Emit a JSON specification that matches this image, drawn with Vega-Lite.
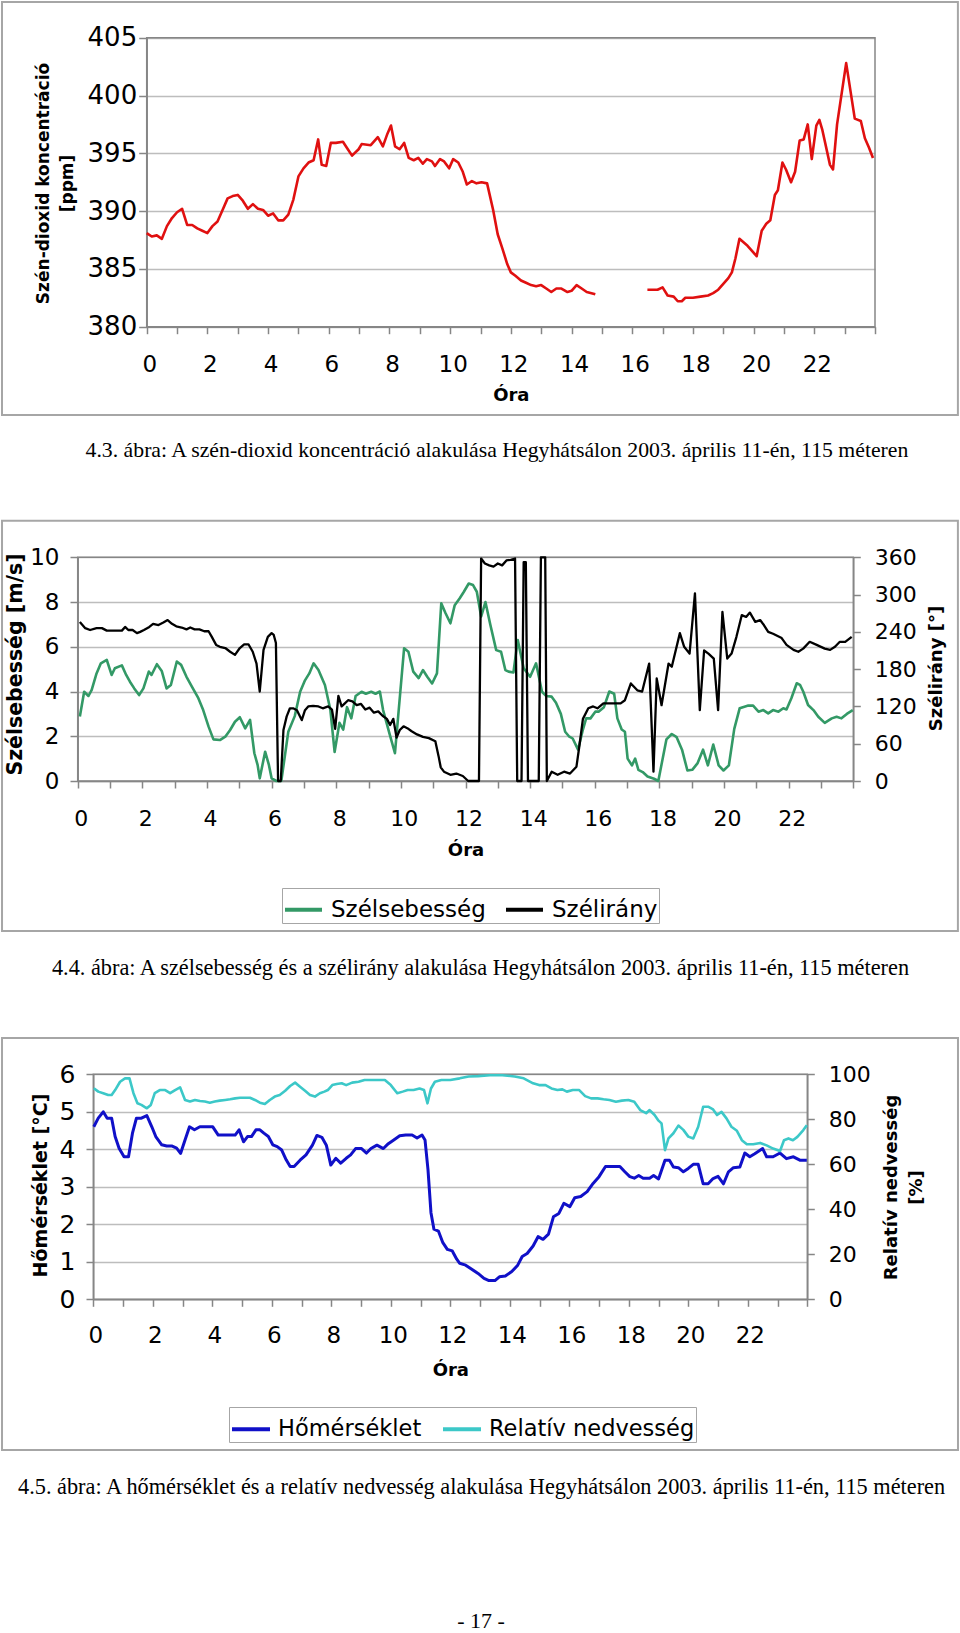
{
"$schema":"https://vega.github.io/schema/vega-lite/v6.json",
"width":960,"height":1633,"autosize":{"type":"none"},"padding":0,"background":"#ffffff",
"config":{"view":{"stroke":null},"font":"DejaVu Sans",
 "axis":{"domainColor":"#868686","domainWidth":1.5,"tickColor":"#868686","tickWidth":1.5,"gridColor":"#bdbdbd","gridWidth":1.5,"labelColor":"#000000","labelFont":"DejaVu Sans","titleFont":"DejaVu Sans","titleColor":"#000000","titleFontWeight":"bold","labelOverlap":false,"labelFlush":false,"labelBound":false,"titleBaseline":"alphabetic","titleAlign":"center"}
},
"datasets":{
"co2":[
{"m":0,"v":388.1,"seg":1},{"m":10,"v":387.8,"seg":1},{"m":20,"v":387.9,"seg":1},{"m":30,"v":387.6,"seg":1},{"m":40,"v":388.7,"seg":1},{"m":50,"v":389.4,"seg":1},{"m":60,"v":389.9,"seg":1},{"m":70,"v":390.2,"seg":1},{"m":80,"v":388.8,"seg":1},{"m":90,"v":388.8,"seg":1},{"m":100,"v":388.5,"seg":1},{"m":110,"v":388.3,"seg":1},{"m":120,"v":388.1,"seg":1},{"m":130,"v":388.7,"seg":1},{"m":140,"v":389.1,"seg":1},{"m":150,"v":390.1,"seg":1},{"m":160,"v":391.1,"seg":1},{"m":170,"v":391.3,"seg":1},{"m":180,"v":391.4,"seg":1},{"m":190,"v":390.9,"seg":1},{"m":200,"v":390.2,"seg":1},{"m":210,"v":390.6,"seg":1},{"m":220,"v":390.2,"seg":1},{"m":230,"v":390.1,"seg":1},{"m":240,"v":389.6,"seg":1},{"m":250,"v":389.8,"seg":1},{"m":260,"v":389.2,"seg":1},{"m":270,"v":389.2,"seg":1},{"m":280,"v":389.7,"seg":1},{"m":290,"v":391.0,"seg":1},{"m":300,"v":393.0,"seg":1},{"m":310,"v":393.7,"seg":1},{"m":320,"v":394.2,"seg":1},{"m":330,"v":394.4,"seg":1},{"m":339,"v":396.2,"seg":1},{"m":346,"v":394.0,"seg":1},{"m":355,"v":393.9,"seg":1},{"m":364,"v":395.9,"seg":1},{"m":374,"v":395.9,"seg":1},{"m":388,"v":396.0,"seg":1},{"m":397,"v":395.4,"seg":1},{"m":406,"v":394.8,"seg":1},{"m":419,"v":395.35,"seg":1},{"m":425,"v":395.8,"seg":1},{"m":443,"v":395.7,"seg":1},{"m":457,"v":396.4,"seg":1},{"m":467,"v":395.6,"seg":1},{"m":476,"v":396.7,"seg":1},{"m":483,"v":397.4,"seg":1},{"m":491,"v":395.6,"seg":1},{"m":500,"v":395.35,"seg":1},{"m":509,"v":395.9,"seg":1},{"m":518,"v":394.6,"seg":1},{"m":528,"v":394.4,"seg":1},{"m":537,"v":394.6,"seg":1},{"m":546,"v":394.1,"seg":1},{"m":554,"v":394.5,"seg":1},{"m":564,"v":394.3,"seg":1},{"m":570,"v":393.9,"seg":1},{"m":580,"v":394.5,"seg":1},{"m":588,"v":394.3,"seg":1},{"m":598,"v":393.7,"seg":1},{"m":606,"v":394.5,"seg":1},{"m":616,"v":394.2,"seg":1},{"m":625,"v":393.4,"seg":1},{"m":633,"v":392.3,"seg":1},{"m":643,"v":392.6,"seg":1},{"m":652,"v":392.4,"seg":1},{"m":662,"v":392.5,"seg":1},{"m":673,"v":392.4,"seg":1},{"m":685,"v":390.1,"seg":1},{"m":694,"v":388.0,"seg":1},{"m":703,"v":386.8,"seg":1},{"m":713,"v":385.4,"seg":1},{"m":720,"v":384.7,"seg":1},{"m":729,"v":384.4,"seg":1},{"m":740,"v":384.0,"seg":1},{"m":750,"v":383.8,"seg":1},{"m":760,"v":383.6,"seg":1},{"m":770,"v":383.5,"seg":1},{"m":780,"v":383.6,"seg":1},{"m":790,"v":383.3,"seg":1},{"m":800,"v":383.0,"seg":1},{"m":810,"v":383.3,"seg":1},{"m":820,"v":383.3,"seg":1},{"m":832,"v":383.0,"seg":1},{"m":840,"v":383.1,"seg":1},{"m":850,"v":383.6,"seg":1},{"m":860,"v":383.3,"seg":1},{"m":870,"v":383.0,"seg":1},{"m":887,"v":382.8,"seg":1},
{"m":990,"v":383.2,"seg":2},{"m":1000,"v":383.2,"seg":2},{"m":1010,"v":383.2,"seg":2},{"m":1020,"v":383.4,"seg":2},{"m":1030,"v":382.7,"seg":2},{"m":1042,"v":382.6,"seg":2},{"m":1050,"v":382.2,"seg":2},{"m":1058,"v":382.2,"seg":2},{"m":1065,"v":382.5,"seg":2},{"m":1080,"v":382.5,"seg":2},{"m":1095,"v":382.6,"seg":2},{"m":1110,"v":382.7,"seg":2},{"m":1120,"v":382.9,"seg":2},{"m":1130,"v":383.2,"seg":2},{"m":1140,"v":383.7,"seg":2},{"m":1150,"v":384.2,"seg":2},{"m":1157,"v":384.7,"seg":2},{"m":1164,"v":385.9,"seg":2},{"m":1172,"v":387.6,"seg":2},{"m":1188,"v":387.0,"seg":2},{"m":1206,"v":386.1,"seg":2},{"m":1216,"v":388.3,"seg":2},{"m":1225,"v":388.9,"seg":2},{"m":1233,"v":389.2,"seg":2},{"m":1242,"v":391.4,"seg":2},{"m":1248,"v":391.8,"seg":2},{"m":1257,"v":394.2,"seg":2},{"m":1264,"v":393.6,"seg":2},{"m":1274,"v":392.5,"seg":2},{"m":1282,"v":393.4,"seg":2},{"m":1291,"v":396.1,"seg":2},{"m":1299,"v":396.2,"seg":2},{"m":1307,"v":397.5,"seg":2},{"m":1315,"v":394.5,"seg":2},{"m":1324,"v":397.4,"seg":2},{"m":1330,"v":397.9,"seg":2},{"m":1336,"v":397.0,"seg":2},{"m":1351,"v":394.0,"seg":2},{"m":1357,"v":393.6,"seg":2},{"m":1365,"v":397.5,"seg":2},{"m":1383,"v":402.8,"seg":2},{"m":1400,"v":398.0,"seg":2},{"m":1412,"v":397.8,"seg":2},{"m":1420,"v":396.3,"seg":2},{"m":1428,"v":395.5,"seg":2},{"m":1436,"v":394.6,"seg":2}
],
"ws":[
{"m":4,"v":2.88},{"m":12,"v":3.99},{"m":20,"v":3.8},{"m":26,"v":4.07},{"m":35,"v":4.81},{"m":43,"v":5.26},{"m":54,"v":5.41},{"m":63,"v":4.74},{"m":69,"v":5.04},{"m":82,"v":5.17},{"m":90,"v":4.74},{"m":97,"v":4.44},{"m":105,"v":4.14},{"m":114,"v":3.84},{"m":122,"v":4.14},{"m":132,"v":4.89},{"m":137,"v":4.74},{"m":147,"v":5.22},{"m":156,"v":4.92},{"m":165,"v":4.14},{"m":173,"v":4.29},{"m":184,"v":5.34},{"m":192,"v":5.19},{"m":202,"v":4.66},{"m":212,"v":4.22},{"m":224,"v":3.7},{"m":233,"v":3.17},{"m":243,"v":2.43},{"m":252,"v":1.86},{"m":264,"v":1.83},{"m":274,"v":1.98},{"m":283,"v":2.28},{"m":292,"v":2.65},{"m":301,"v":2.85},{"m":311,"v":2.35},{"m":320,"v":2.73},{"m":328,"v":1.24},{"m":334,"v":0.72},{"m":338,"v":0.12},{"m":348,"v":1.31},{"m":355,"v":0.72},{"m":360,"v":0.12},{"m":369,"v":0},{"m":378,"v":0},{"m":391,"v":2.2},{"m":403,"v":2.9},{"m":413,"v":3.99},{"m":422,"v":4.5},{"m":430,"v":4.81},{"m":438,"v":5.26},{"m":447,"v":4.96},{"m":459,"v":4.29},{"m":469,"v":3.2},{"m":477,"v":1.3},{"m":486,"v":2.6},{"m":493,"v":2.3},{"m":500,"v":3.3},{"m":508,"v":2.8},{"m":516,"v":3.8},{"m":527,"v":3.99},{"m":535,"v":3.9},{"m":545,"v":3.99},{"m":553,"v":3.9},{"m":561,"v":4.0},{"m":567,"v":3.17},{"m":578,"v":2.2},{"m":589,"v":1.24},{"m":606,"v":5.93},{"m":614,"v":5.78},{"m":623,"v":4.89},{"m":633,"v":4.6},{"m":641,"v":4.96},{"m":649,"v":4.66},{"m":658,"v":4.36},{"m":667,"v":4.81},{"m":675,"v":7.94},{"m":683,"v":7.5},{"m":692,"v":7.05},{"m":700,"v":7.86},{"m":709,"v":8.16},{"m":717,"v":8.46},{"m":726,"v":8.83},{"m":734,"v":8.76},{"m":741,"v":8.46},{"m":749,"v":7.35},{"m":757,"v":8.0},{"m":766,"v":7.0},{"m":777,"v":5.85},{"m":786,"v":5.78},{"m":794,"v":4.96},{"m":800,"v":4.89},{"m":809,"v":4.85},{"m":817,"v":6.3},{"m":828,"v":5.04},{"m":840,"v":4.66},{"m":851,"v":5.26},{"m":862,"v":3.99},{"m":870,"v":3.8},{"m":880,"v":3.77},{"m":888,"v":3.5},{"m":897,"v":3.0},{"m":905,"v":2.2},{"m":912,"v":2.0},{"m":919,"v":1.9},{"m":929,"v":1.4},{"m":938,"v":2.3},{"m":944,"v":2.8},{"m":952,"v":2.8},{"m":961,"v":3.1},{"m":967,"v":3.1},{"m":977,"v":3.3},{"m":987,"v":4.0},{"m":996,"v":3.9},{"m":1002,"v":2.8},{"m":1010,"v":2.3},{"m":1016,"v":2.2},{"m":1021,"v":1.0},{"m":1029,"v":0.7},{"m":1035,"v":1.0},{"m":1041,"v":0.5},{"m":1049,"v":0.4},{"m":1058,"v":0.2},{"m":1070,"v":0.1},{"m":1078,"v":0},{"m":1093,"v":1.86},{"m":1103,"v":2.1},{"m":1112,"v":1.96},{"m":1122,"v":1.4},{"m":1132,"v":0.47},{"m":1141,"v":0.5},{"m":1151,"v":0.8},{"m":1161,"v":1.4},{"m":1170,"v":0.7},{"m":1180,"v":1.63},{"m":1190,"v":0.7},{"m":1199,"v":0.47},{"m":1209,"v":0.7},{"m":1219,"v":2.33},{"m":1229,"v":3.25},{"m":1235,"v":3.3},{"m":1245,"v":3.37},{"m":1254,"v":3.37},{"m":1264,"v":3.1},{"m":1273,"v":3.17},{"m":1282,"v":3.02},{"m":1291,"v":3.17},{"m":1301,"v":3.1},{"m":1310,"v":3.25},{"m":1316,"v":3.2},{"m":1325,"v":3.7},{"m":1335,"v":4.37},{"m":1341,"v":4.3},{"m":1347,"v":4.0},{"m":1356,"v":3.4},{"m":1366,"v":3.17},{"m":1375,"v":2.87},{"m":1387,"v":2.6},{"m":1400,"v":2.8},{"m":1409,"v":2.87},{"m":1418,"v":2.8},{"m":1428,"v":3.0},{"m":1439,"v":3.17}
],
"wd":[
{"m":4,"v":256},{"m":14,"v":246},{"m":23,"v":243},{"m":35,"v":246},{"m":45,"v":246},{"m":54,"v":242},{"m":63,"v":242},{"m":72,"v":242},{"m":82,"v":242},{"m":88,"v":248},{"m":94,"v":243},{"m":102,"v":243},{"m":110,"v":238},{"m":116,"v":240},{"m":123,"v":243},{"m":133,"v":248},{"m":140,"v":253},{"m":150,"v":251},{"m":159,"v":255},{"m":167,"v":259},{"m":175,"v":253},{"m":183,"v":249},{"m":193,"v":247},{"m":202,"v":244},{"m":209,"v":247},{"m":217,"v":244},{"m":226,"v":244},{"m":235,"v":241},{"m":243,"v":241},{"m":249,"v":232},{"m":257,"v":219},{"m":264,"v":216},{"m":274,"v":214},{"m":283,"v":208},{"m":292,"v":203},{"m":301,"v":214},{"m":309,"v":220},{"m":317,"v":220},{"m":325,"v":208},{"m":332,"v":189},{"m":338,"v":144},{"m":345,"v":211},{"m":353,"v":232},{"m":360,"v":238},{"m":364,"v":235},{"m":368,"v":222},{"m":372,"v":0},{"m":377,"v":0},{"m":382,"v":82},{"m":388,"v":104},{"m":394,"v":117},{"m":400,"v":117},{"m":407,"v":114},{"m":416,"v":98},{"m":422,"v":114},{"m":428,"v":120},{"m":437,"v":121},{"m":447,"v":120},{"m":455,"v":117},{"m":465,"v":120},{"m":472,"v":115},{"m":478,"v":84},{"m":484,"v":137},{"m":490,"v":120},{"m":496,"v":125},{"m":502,"v":130},{"m":510,"v":128},{"m":518,"v":122},{"m":526,"v":124},{"m":534,"v":115},{"m":542,"v":118},{"m":550,"v":110},{"m":558,"v":112},{"m":566,"v":105},{"m":574,"v":100},{"m":580,"v":90},{"m":586,"v":100},{"m":592,"v":70},{"m":598,"v":82},{"m":605,"v":88},{"m":612,"v":85},{"m":620,"v":80},{"m":630,"v":75},{"m":641,"v":71},{"m":652,"v":69},{"m":664,"v":64},{"m":670,"v":40},{"m":674,"v":22},{"m":680,"v":15},{"m":692,"v":10},{"m":703,"v":12},{"m":715,"v":8},{"m":725,"v":0},{"m":745,"v":0},{"m":749,"v":358},{"m":756,"v":350},{"m":764,"v":347},{"m":772,"v":345},{"m":780,"v":350},{"m":788,"v":347},{"m":796,"v":355},{"m":804,"v":356},{"m":812,"v":358},{"m":816,"v":0},{"m":824,"v":0},{"m":828,"v":352},{"m":832,"v":352},{"m":836,"v":0},{"m":856,"v":0},{"m":860,"v":360},{"m":868,"v":360},{"m":871,"v":0},{"m":880,"v":15},{"m":891,"v":10},{"m":903,"v":15},{"m":914,"v":12},{"m":926,"v":23},{"m":932,"v":60},{"m":938,"v":100},{"m":948,"v":117},{"m":957,"v":120},{"m":965,"v":117},{"m":976,"v":125},{"m":993,"v":125},{"m":1008,"v":125},{"m":1016,"v":130},{"m":1027,"v":157},{"m":1039,"v":146},{"m":1048,"v":144},{"m":1061,"v":189},{"m":1069,"v":15},{"m":1075,"v":165},{"m":1084,"v":122},{"m":1097,"v":189},{"m":1103,"v":184},{"m":1118,"v":238},{"m":1126,"v":216},{"m":1136,"v":205},{"m":1146,"v":302},{"m":1155,"v":114},{"m":1163,"v":210},{"m":1171,"v":205},{"m":1181,"v":197},{"m":1189,"v":114},{"m":1197,"v":272},{"m":1206,"v":197},{"m":1214,"v":205},{"m":1223,"v":232},{"m":1233,"v":267},{"m":1241,"v":264},{"m":1248,"v":271},{"m":1258,"v":256},{"m":1267,"v":259},{"m":1274,"v":251},{"m":1282,"v":240},{"m":1291,"v":237},{"m":1307,"v":230},{"m":1316,"v":219},{"m":1329,"v":211},{"m":1338,"v":208},{"m":1347,"v":213},{"m":1359,"v":224},{"m":1372,"v":219},{"m":1387,"v":213},{"m":1397,"v":211},{"m":1406,"v":216},{"m":1415,"v":224},{"m":1425,"v":224},{"m":1437,"v":232}
],
"t":[
{"m":1,"v":4.6},{"m":10,"v":4.83},{"m":20,"v":5.0},{"m":28,"v":4.83},{"m":37,"v":4.83},{"m":44,"v":4.34},{"m":52,"v":4.03},{"m":62,"v":3.8},{"m":71,"v":3.8},{"m":79,"v":4.43},{"m":87,"v":4.83},{"m":97,"v":4.83},{"m":108,"v":4.9},{"m":118,"v":4.6},{"m":126,"v":4.34},{"m":138,"v":4.12},{"m":148,"v":4.09},{"m":158,"v":4.09},{"m":168,"v":4.03},{"m":176,"v":3.89},{"m":185,"v":4.25},{"m":194,"v":4.6},{"m":204,"v":4.52},{"m":215,"v":4.6},{"m":229,"v":4.6},{"m":241,"v":4.6},{"m":252,"v":4.38},{"m":264,"v":4.38},{"m":276,"v":4.38},{"m":286,"v":4.38},{"m":294,"v":4.52},{"m":303,"v":4.2},{"m":311,"v":4.34},{"m":319,"v":4.34},{"m":328,"v":4.52},{"m":336,"v":4.52},{"m":344,"v":4.43},{"m":353,"v":4.34},{"m":362,"v":4.12},{"m":371,"v":4.07},{"m":380,"v":3.98},{"m":389,"v":3.72},{"m":397,"v":3.54},{"m":405,"v":3.54},{"m":417,"v":3.71},{"m":429,"v":3.85},{"m":442,"v":4.11},{"m":451,"v":4.37},{"m":461,"v":4.32},{"m":470,"v":4.11},{"m":479,"v":3.58},{"m":489,"v":3.76},{"m":499,"v":3.63},{"m":510,"v":3.76},{"m":519,"v":3.85},{"m":529,"v":4.02},{"m":541,"v":4.02},{"m":551,"v":3.9},{"m":560,"v":4.02},{"m":572,"v":4.11},{"m":585,"v":4.02},{"m":595,"v":4.15},{"m":606,"v":4.25},{"m":618,"v":4.36},{"m":630,"v":4.38},{"m":643,"v":4.38},{"m":653,"v":4.3},{"m":663,"v":4.38},{"m":669,"v":4.25},{"m":675,"v":3.46},{"m":681,"v":2.31},{"m":687,"v":1.87},{"m":696,"v":1.82},{"m":705,"v":1.51},{"m":714,"v":1.33},{"m":724,"v":1.29},{"m":733,"v":1.07},{"m":739,"v":0.96},{"m":751,"v":0.91},{"m":761,"v":0.82},{"m":776,"v":0.69},{"m":788,"v":0.56},{"m":798,"v":0.5},{"m":810,"v":0.5},{"m":819,"v":0.6},{"m":831,"v":0.62},{"m":844,"v":0.74},{"m":856,"v":0.91},{"m":865,"v":1.14},{"m":875,"v":1.22},{"m":887,"v":1.42},{"m":897,"v":1.67},{"m":907,"v":1.6},{"m":918,"v":1.74},{"m":928,"v":2.2},{"m":939,"v":2.29},{"m":949,"v":2.56},{"m":961,"v":2.47},{"m":971,"v":2.71},{"m":983,"v":2.74},{"m":996,"v":2.87},{"m":1008,"v":3.09},{"m":1020,"v":3.27},{"m":1033,"v":3.54},{"m":1048,"v":3.54},{"m":1062,"v":3.54},{"m":1072,"v":3.4},{"m":1082,"v":3.27},{"m":1091,"v":3.23},{"m":1100,"v":3.3},{"m":1109,"v":3.23},{"m":1122,"v":3.23},{"m":1130,"v":3.3},{"m":1140,"v":3.21},{"m":1153,"v":3.71},{"m":1162,"v":3.71},{"m":1170,"v":3.53},{"m":1180,"v":3.51},{"m":1190,"v":3.4},{"m":1200,"v":3.49},{"m":1210,"v":3.6},{"m":1220,"v":3.6},{"m":1230,"v":3.08},{"m":1240,"v":3.08},{"m":1250,"v":3.22},{"m":1260,"v":3.28},{"m":1271,"v":3.08},{"m":1281,"v":3.4},{"m":1291,"v":3.51},{"m":1304,"v":3.53},{"m":1314,"v":3.9},{"m":1324,"v":3.8},{"m":1334,"v":3.88},{"m":1350,"v":4.02},{"m":1358,"v":3.8},{"m":1371,"v":3.8},{"m":1385,"v":3.9},{"m":1398,"v":3.75},{"m":1412,"v":3.8},{"m":1425,"v":3.71},{"m":1439,"v":3.71}
],
"rh":[
{"m":1,"v":93.8},{"m":10,"v":92.3},{"m":20,"v":91.6},{"m":30,"v":90.8},{"m":37,"v":90.8},{"m":44,"v":93},{"m":54,"v":96.7},{"m":64,"v":98.2},{"m":73,"v":98.2},{"m":81,"v":91.6},{"m":89,"v":87.1},{"m":97,"v":86.4},{"m":108,"v":84.9},{"m":116,"v":86.4},{"m":124,"v":91.6},{"m":134,"v":93},{"m":145,"v":93},{"m":155,"v":91.6},{"m":165,"v":93},{"m":175,"v":94.2},{"m":185,"v":88.6},{"m":195,"v":87.9},{"m":205,"v":88.6},{"m":215,"v":88.1},{"m":225,"v":87.9},{"m":235,"v":87.4},{"m":245,"v":87.9},{"m":255,"v":88.3},{"m":266,"v":88.6},{"m":276,"v":88.9},{"m":286,"v":89.3},{"m":296,"v":89.6},{"m":306,"v":89.6},{"m":316,"v":89.6},{"m":326,"v":88.6},{"m":336,"v":87.4},{"m":346,"v":86.8},{"m":356,"v":88.6},{"m":366,"v":90.1},{"m":376,"v":90.8},{"m":387,"v":92.7},{"m":397,"v":94.8},{"m":407,"v":96.3},{"m":417,"v":94.5},{"m":427,"v":92.7},{"m":437,"v":90.8},{"m":447,"v":90.1},{"m":457,"v":91.6},{"m":466,"v":92.3},{"m":473,"v":93},{"m":482,"v":95.2},{"m":491,"v":95.7},{"m":501,"v":96},{"m":510,"v":95.2},{"m":522,"v":96.3},{"m":535,"v":96.7},{"m":547,"v":97.5},{"m":559,"v":97.5},{"m":572,"v":97.5},{"m":588,"v":97.5},{"m":600,"v":95.2},{"m":613,"v":91.6},{"m":624,"v":92.3},{"m":634,"v":93},{"m":646,"v":93},{"m":658,"v":93.7},{"m":667,"v":93},{"m":674,"v":87.1},{"m":681,"v":93.7},{"m":689,"v":96.7},{"m":702,"v":97.5},{"m":720,"v":97.5},{"m":739,"v":98.2},{"m":757,"v":99},{"m":776,"v":99.2},{"m":800,"v":99.6},{"m":825,"v":99.6},{"m":850,"v":99},{"m":868,"v":98.2},{"m":887,"v":96},{"m":899,"v":95.2},{"m":912,"v":95.2},{"m":924,"v":93.7},{"m":936,"v":93},{"m":946,"v":93.3},{"m":955,"v":92.3},{"m":967,"v":93},{"m":980,"v":93},{"m":992,"v":90.3},{"m":1004,"v":89.3},{"m":1017,"v":89.3},{"m":1029,"v":88.9},{"m":1041,"v":88.6},{"m":1054,"v":87.8},{"m":1066,"v":88.3},{"m":1079,"v":88.6},{"m":1091,"v":87.8},{"m":1103,"v":84.1},{"m":1115,"v":82.7},{"m":1122,"v":84.1},{"m":1132,"v":81.9},{"m":1140,"v":79.4},{"m":1146,"v":78.2},{"m":1153,"v":66.3},{"m":1160,"v":71.5},{"m":1170,"v":73.8},{"m":1180,"v":77.2},{"m":1190,"v":75.3},{"m":1200,"v":72.3},{"m":1210,"v":71.5},{"m":1220,"v":76.7},{"m":1230,"v":85.6},{"m":1240,"v":85.6},{"m":1250,"v":84.4},{"m":1258,"v":81.9},{"m":1267,"v":83.3},{"m":1277,"v":80.4},{"m":1287,"v":76.7},{"m":1298,"v":74.9},{"m":1308,"v":70.7},{"m":1318,"v":68.9},{"m":1331,"v":68.9},{"m":1345,"v":69.5},{"m":1358,"v":68.4},{"m":1371,"v":67},{"m":1385,"v":65.9},{"m":1393,"v":70.7},{"m":1402,"v":71.5},{"m":1411,"v":70.7},{"m":1420,"v":72.2},{"m":1432,"v":75.2},{"m":1439,"v":77.4}
]
},
"layer":[
{"layer":[
 {"data":{"values":[{}]},"mark":{"type":"rect","fillOpacity":0,"stroke":"#a6a6a6","strokeWidth":2},
  "encoding":{"x":{"datum":-286.1,"type":"quantitative","scale":{"domain":[0,1440],"range":[146.7,875],"nice":false,"zero":false},"axis":null},"x2":{"datum":1603.9},
   "y":{"datum":408.09,"type":"quantitative","scale":{"domain":[380,405],"range":[326.7,37.7],"nice":false,"zero":false},"axis":null},"y2":{"datum":372.36}}},
 {"data":{"values":[{}]},"mark":{"type":"rect","fillOpacity":0,"stroke":"#868686","strokeWidth":1.5},
  "encoding":{"x":{"datum":0,"type":"quantitative","scale":{"domain":[0,1440],"range":[146.7,875],"nice":false,"zero":false},"axis":null},"x2":{"datum":1440},
   "y":{"datum":380,"type":"quantitative","scale":{"domain":[380,405],"range":[326.7,37.7],"nice":false,"zero":false},"axis":null},"y2":{"datum":405}}},
 {"data":{"values":[{}]},"mark":{"type":"text","font":"Liberation Serif","fontSize":21.75,"align":"center","baseline":"alphabetic","color":"#000000"},
  "encoding":{"x":{"datum":692.5,"type":"quantitative","scale":{"domain":[0,1440],"range":[146.7,875],"nice":false,"zero":false},"axis":null},
   "y":{"datum":368.75,"type":"quantitative","scale":{"domain":[380,405],"range":[326.7,37.7],"nice":false,"zero":false},"axis":null},
   "text":{"value":"4.3. ábra: A szén-dioxid koncentráció alakulása Hegyhátsálon 2003. április 11-én, 115 méteren"}}},
 {"data":{"name":"co2"},"mark":{"type":"line","color":"#e01010","strokeWidth":2.6,"strokeJoin":"round"},
  "encoding":{
   "x":{"field":"m","type":"quantitative","scale":{"domain":[0,1440],"range":[146.7,875],"nice":false,"zero":false},
    "axis":{"orient":"bottom","offset":-1306.3,"values":[0,60,120,180,240,300,360,420,480,540,600,660,720,780,840,900,960,1020,1080,1140,1200,1260,1320,1380,1440],"labelExpr":"datum.value % 120 == 0 && datum.value < 1440 ? '' + (datum.value / 60) : ''","labelFontSize":23,"labelPadding":19.5,"labelOffset":2.5,"tickSize":7,"grid":false,"title":"Óra","titleFontSize":18,"titleY":74}},
   "y":{"field":"v","type":"quantitative","scale":{"domain":[380,405],"range":[326.7,37.7],"nice":false,"zero":false},
    "axis":{"orient":"left","offset":-146.7,"values":[380,385,390,395,400,405],"labelFontSize":26,"tickSize":8,"labelPadding":2,"grid":true,"title":["Szén-dioxid koncentráció","[ppm]"],"titleFontSize":17,"titleAngle":270,"titleX":-98.7,"titleY":183,"titleLineHeight":24.5}},
   "detail":{"field":"seg","type":"nominal"}}}
],"resolve":{"scale":{"x":"independent","y":"independent"}}},
{"layer":[
 {"data":{"values":[{}]},"mark":{"type":"rect","fillOpacity":0,"stroke":"#a6a6a6","strokeWidth":2},
  "encoding":{"x":{"datum":-140.5,"type":"quantitative","scale":{"domain":[0,1440],"range":[77.7,853.3],"nice":false,"zero":false},"axis":null},"x2":{"datum":1634.2},
   "y":{"datum":11.636,"type":"quantitative","scale":{"domain":[0,10],"range":[781,557.3],"nice":false,"zero":false},"axis":null},"y2":{"datum":-6.705}}},
 {"data":{"values":[{}]},"mark":{"type":"rect","fillOpacity":0,"stroke":"#868686","strokeWidth":1.5},
  "encoding":{"x":{"datum":0,"type":"quantitative","scale":{"domain":[0,1440],"range":[77.7,853.3],"nice":false,"zero":false},"axis":null},"x2":{"datum":1440},
   "y":{"datum":0,"type":"quantitative","scale":{"domain":[0,10],"range":[781,557.3],"nice":false,"zero":false},"axis":null},"y2":{"datum":10}}},
 {"data":{"values":[{}]},"mark":{"type":"text","font":"Liberation Serif","fontSize":22.3,"align":"center","baseline":"alphabetic","color":"#000000"},
  "encoding":{"x":{"datum":747.8,"type":"quantitative","scale":{"domain":[0,1440],"range":[77.7,853.3],"nice":false,"zero":false},"axis":null},
   "y":{"datum":-8.672,"type":"quantitative","scale":{"domain":[0,10],"range":[781,557.3],"nice":false,"zero":false},"axis":null},
   "text":{"value":"4.4. ábra: A szélsebesség és a szélirány alakulása Hegyhátsálon 2003. április 11-én, 115 méteren"}}},
 {"data":{"name":"ws"},"mark":{"type":"line","strokeWidth":2.6,"strokeJoin":"round"},
  "encoding":{
   "x":{"field":"m","type":"quantitative","scale":{"domain":[0,1440],"range":[77.7,853.3],"nice":false,"zero":false},
    "axis":{"orient":"bottom","offset":-852,"values":[0,60,120,180,240,300,360,420,480,540,600,660,720,780,840,900,960,1020,1080,1140,1200,1260,1320,1380,1440],"labelExpr":"datum.value % 120 == 0 && datum.value < 1440 ? '' + (datum.value / 60) : ''","labelFontSize":22,"labelPadding":20,"labelOffset":3,"tickSize":7,"grid":false,"title":"Óra","titleFontSize":18,"titleY":74.7}},
   "y":{"field":"v","type":"quantitative","scale":{"domain":[0,10],"range":[781,557.3],"nice":false,"zero":false},
    "axis":{"orient":"left","offset":-77.7,"values":[0,2,4,6,8,10],"labelFontSize":23,"tickSize":7.7,"labelPadding":11,"grid":true,"title":"Szélsebesség [m/s]","titleFontSize":20.5,"titleAngle":270,"titleX":-55.7,"titleY":664}},
   "color":{"datum":"Szélsebesség","type":"nominal","scale":{"domain":["Szélsebesség","Szélirány"],"range":["#339966","#000000"]},
    "legend":{"orient":"none","legendX":282,"legendY":888,"direction":"horizontal","title":null,"symbolType":"stroke","symbolSize":1369,"symbolStrokeWidth":4,"labelFont":"DejaVu Sans","labelFontSize":23,"labelColor":"#000000","labelOffset":7,"columnPadding":12,"padding":1,"strokeColor":"#a6a6a6","fillColor":"#ffffff","labelLimit":600}}}},
 {"data":{"name":"wd"},"mark":{"type":"line","strokeWidth":2.3,"strokeJoin":"round"},
  "encoding":{
   "x":{"field":"m","type":"quantitative","scale":{"domain":[0,1440],"range":[77.7,853.3],"nice":false,"zero":false},"axis":null},
   "y":{"field":"v","type":"quantitative","scale":{"domain":[0,360],"range":[781,557.3],"nice":false,"zero":false},
    "axis":{"orient":"right","offset":-106.7,"values":[0,60,120,180,240,300,360],"labelFontSize":22,"tickSize":7,"labelPadding":14,"grid":false,"title":"Szélirány [°]","titleFontSize":18,"titleAngle":270,"titleX":88.2,"titleY":668}},
   "color":{"datum":"Szélirány","type":"nominal","scale":{"domain":["Szélsebesség","Szélirány"],"range":["#339966","#000000"]},
    "legend":{"orient":"none","legendX":282,"legendY":888,"direction":"horizontal","title":null,"symbolType":"stroke","symbolSize":1369,"symbolStrokeWidth":4,"labelFont":"DejaVu Sans","labelFontSize":23,"labelColor":"#000000","labelOffset":7,"columnPadding":12,"padding":1,"strokeColor":"#a6a6a6","fillColor":"#ffffff","labelLimit":600}}}}
],"resolve":{"scale":{"x":"independent","y":"independent"}}},
{"layer":[
 {"data":{"values":[{}]},"mark":{"type":"rect","fillOpacity":0,"stroke":"#a6a6a6","strokeWidth":2},
  "encoding":{"x":{"datum":-184.1,"type":"quantitative","scale":{"domain":[0,1440],"range":[93.3,807.3],"nice":false,"zero":false},"axis":null},"x2":{"datum":1743.9},
   "y":{"datum":6.968,"type":"quantitative","scale":{"domain":[0,6],"range":[1299.3,1074.3],"nice":false,"zero":false},"axis":null},"y2":{"datum":-4.019}}},
 {"data":{"values":[{}]},"mark":{"type":"rect","fillOpacity":0,"stroke":"#868686","strokeWidth":1.5},
  "encoding":{"x":{"datum":0,"type":"quantitative","scale":{"domain":[0,1440],"range":[93.3,807.3],"nice":false,"zero":false},"axis":null},"x2":{"datum":1440},
   "y":{"datum":0,"type":"quantitative","scale":{"domain":[0,6],"range":[1299.3,1074.3],"nice":false,"zero":false},"axis":null},"y2":{"datum":6}}},
 {"data":{"values":[{}]},"mark":{"type":"text","font":"Liberation Serif","fontSize":22.3,"align":"center","baseline":"alphabetic","color":"#000000"},
  "encoding":{"x":{"datum":783.1,"type":"quantitative","scale":{"domain":[0,1440],"range":[93.3,807.3],"nice":false,"zero":false},"axis":null},
   "y":{"datum":-5.179,"type":"quantitative","scale":{"domain":[0,6],"range":[1299.3,1074.3],"nice":false,"zero":false},"axis":null},
   "text":{"value":"4.5. ábra: A hőmérséklet és a relatív nedvesség alakulása Hegyhátsálon 2003. április 11-én, 115 méteren"}}},
 {"data":{"values":[{}]},"mark":{"type":"text","font":"Liberation Serif","fontSize":22,"align":"center","baseline":"alphabetic","color":"#000000"},
  "encoding":{"x":{"datum":781.9,"type":"quantitative","scale":{"domain":[0,1440],"range":[93.3,807.3],"nice":false,"zero":false},"axis":null},
   "y":{"datum":-8.752,"type":"quantitative","scale":{"domain":[0,6],"range":[1299.3,1074.3],"nice":false,"zero":false},"axis":null},
   "text":{"value":"- 17 -"}}},
 {"data":{"name":"t"},"mark":{"type":"line","strokeWidth":3,"strokeJoin":"round"},
  "encoding":{
   "x":{"field":"m","type":"quantitative","scale":{"domain":[0,1440],"range":[93.3,807.3],"nice":false,"zero":false},
    "axis":{"orient":"bottom","offset":-333.7,"values":[0,60,120,180,240,300,360,420,480,540,600,660,720,780,840,900,960,1020,1080,1140,1200,1260,1320,1380,1440],"labelExpr":"datum.value % 120 == 0 && datum.value < 1440 ? '' + (datum.value / 60) : ''","labelFontSize":23,"labelPadding":18,"labelOffset":2,"tickSize":7,"grid":false,"title":"Óra","titleFontSize":18,"titleY":75.7}},
   "y":{"field":"v","type":"quantitative","scale":{"domain":[0,6],"range":[1299.3,1074.3],"nice":false,"zero":false},
    "axis":{"orient":"left","offset":-93.3,"values":[0,1,2,3,4,5,6],"labelFontSize":25,"tickSize":7.3,"labelPadding":11,"grid":true,"title":"Hőmérséklet [°C]","titleFontSize":19,"titleAngle":270,"titleX":-47.3,"titleY":1185}},
   "color":{"datum":"Hőmérséklet","type":"nominal","scale":{"domain":["Hőmérséklet","Relatív nedvesség"],"range":["#1010c8","#3cc8c8"]},
    "legend":{"orient":"none","legendX":229,"legendY":1407,"direction":"horizontal","title":null,"symbolType":"stroke","symbolSize":1444,"symbolStrokeWidth":4,"labelFont":"DejaVu Sans","labelFontSize":22.5,"labelColor":"#000000","labelOffset":6,"columnPadding":13,"padding":1,"strokeColor":"#a6a6a6","fillColor":"#ffffff","labelLimit":600}}}},
 {"data":{"name":"rh"},"mark":{"type":"line","strokeWidth":2.6,"strokeJoin":"round"},
  "encoding":{
   "x":{"field":"m","type":"quantitative","scale":{"domain":[0,1440],"range":[93.3,807.3],"nice":false,"zero":false},"axis":null},
   "y":{"field":"v","type":"quantitative","scale":{"domain":[0,100],"range":[1299.3,1074.3],"nice":false,"zero":false},
    "axis":{"orient":"right","offset":-152.7,"values":[0,20,40,60,80,100],"labelFontSize":22,"tickSize":7,"labelPadding":14,"grid":false,"title":["Relatív nedvesség","[%]"],"titleFontSize":18,"titleAngle":270,"titleX":88.7,"titleY":1187,"titleLineHeight":25}},
   "color":{"datum":"Relatív nedvesség","type":"nominal","scale":{"domain":["Hőmérséklet","Relatív nedvesség"],"range":["#1010c8","#3cc8c8"]},
    "legend":{"orient":"none","legendX":229,"legendY":1407,"direction":"horizontal","title":null,"symbolType":"stroke","symbolSize":1444,"symbolStrokeWidth":4,"labelFont":"DejaVu Sans","labelFontSize":22.5,"labelColor":"#000000","labelOffset":6,"columnPadding":13,"padding":1,"strokeColor":"#a6a6a6","fillColor":"#ffffff","labelLimit":600}}}}
],"resolve":{"scale":{"x":"independent","y":"independent"}}}
],
"resolve":{"scale":{"x":"independent","y":"independent","color":"independent"}}
}
